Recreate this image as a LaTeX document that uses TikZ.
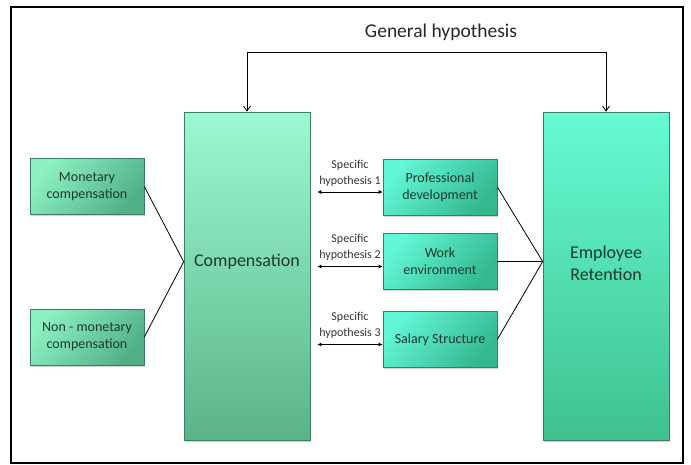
\documentclass[tikz,border=0pt]{standalone}
\usepackage{fontspec}
\setmainfont{Carlito}
\usetikzlibrary{arrows.meta,calc,shadows}
\definecolor{compTop}{HTML}{9DF8D3}
\definecolor{compBottom}{HTML}{5BB487}
\definecolor{retTop}{HTML}{66FBD4}
\definecolor{retBottom}{HTML}{3FC18F}
\definecolor{leftTop}{HTML}{8CF0C2}
\definecolor{leftBottom}{HTML}{52B087}
\definecolor{rightTop}{HTML}{62F6D6}
\definecolor{rightBottom}{HTML}{34B890}
\definecolor{boxEdge}{HTML}{3C7E62}
\definecolor{boxText}{HTML}{1C3A2D}

\begin{document}
\begin{tikzpicture}[
  x=1pt, y=-1pt,
  every box/.style={
    draw=boxEdge,
    line width=0.6pt,
    inner sep=0pt,
    align=center,
    text=boxText,
    drop shadow={opacity=0.35, shadow xshift=1pt, shadow yshift=-1.5pt},
  },
  tall box/.style={
    every box,
    minimum width=126pt,
    minimum height=328pt,
  },
  small box/.style={
    every box,
    minimum width=114pt,
    minimum height=56pt,
    font=\fontsize{14}{17}\selectfont,
  },
  big text/.style={
    text=boxText,
    align=center,
    font=\fontsize{18}{22}\selectfont,
  },
  spec text/.style={
    text=black!80,
    align=center,
    font=\fontsize{12}{16}\selectfont,
  },
  link/.style={line width=0.8pt},
  spec arrow/.style={line width=0.8pt, {Latex[length=4pt,width=4pt]}-{Latex[length=4pt,width=4pt]}},
  gen arrow/.style={line width=0.8pt, {Straight Barb[length=5pt,width=7pt]}-{Straight Barb[length=5pt,width=7pt]}},
]
\useasboundingbox (0,0) rectangle (691,464);
\draw[line width=1.4pt] (11,7) rectangle (683,463);

% main blocks
\node[tall box, top color=compTop, bottom color=compBottom] (comp) at (247,276) {};
\node[tall box, top color=retTop, bottom color=retBottom] (ret) at (606,276) {};
\node[big text] (comptext) at (247,262) {Compensation};
\node[big text] (rettext) at (606,263) {Employee\\Retention};

% compensation types
\node[small box, top color=leftTop, bottom color=leftBottom, shading angle=50] (mon) at (87,186.5) {Monetary\\compensation};
\node[small box, top color=leftTop, bottom color=leftBottom, shading angle=50] (nonmon) at (87,337) {Non - monetary\\compensation};

% retention factors
\node[small box, top color=rightTop, bottom color=rightBottom, shading angle=50] (prof) at (440,187) {Professional\\development};
\node[small box, top color=rightTop, bottom color=rightBottom, shading angle=50] (work) at (440,261.5) {Work\\environment};
\node[small box, top color=rightTop, bottom color=rightBottom, shading angle=50] (sal) at (440,339.5) {Salary Structure};

% joins
\coordinate (cmid) at ($(mon.east)!0.5!(nonmon.east)$);
\coordinate (cjoin) at (cmid -| comp.west);
\coordinate (rjoin) at (work.east -| ret.west);
\draw[link] (mon.east) -- (cjoin) -- (nonmon.east);
\draw[link] (prof.east) -- (rjoin) -- (sal.east);
\draw[link] (work.east) -- (rjoin);

% specific hypotheses
\foreach \fac/\n in {prof/1,work/2,sal/3}{
  \draw[spec arrow] ([xshift=7pt,yshift=-5pt]comp.east |- \fac.west) -- ([yshift=-5pt]\fac.west)
    node[midway, above=2pt, spec text] {Specific\\hypothesis \n};
}

% general hypothesis
\coordinate (gline) at (0,52);
\coordinate (gl) at (comp.north |- gline);
\coordinate (gr) at (ret.north |- gline);
\draw[gen arrow] (comp.north) -- (gl) -- (gr) -- (ret.north);
\node[text=black!85, font=\fontsize{19.5}{23}\selectfont] (gen) at (441,32) {General hypothesis};
\end{tikzpicture}
\end{document}
